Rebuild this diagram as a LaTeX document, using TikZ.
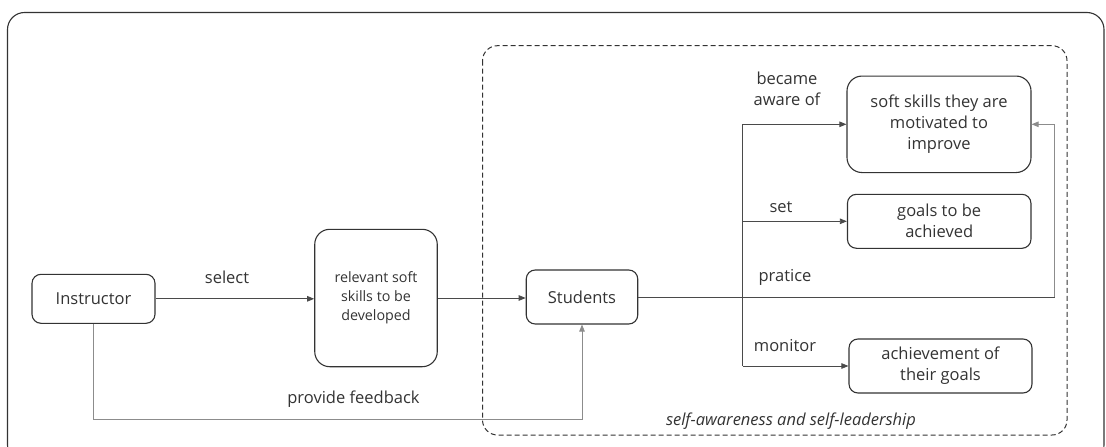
\documentclass[tikz,border=0pt]{standalone}
\usepackage{fontspec}
\setmainfont{Open Sans}
\usetikzlibrary{arrows.meta}
\definecolor{ink}{HTML}{333333}
\definecolor{edgedark}{HTML}{4A4A4A}
\definecolor{edgelight}{HTML}{8C8C8C}
\begin{document}
\begin{tikzpicture}[x=1pt,y=-1pt,
  box/.style={draw=ink,line width=1.1pt,rounded corners=9pt,inner sep=0pt,
    align=center,text=ink,font=\fontsize{16.5}{21}\selectfont},
  lbl/.style={text=ink,align=center,inner sep=0pt,font=\fontsize{16.5}{21}\selectfont},
  conn/.style={draw=edgedark,line width=0.8pt,-{Triangle[length=7pt,width=5.5pt]}},
  plain/.style={draw=edgedark,line width=0.8pt},
  soft/.style={draw=edgelight,line width=0.8pt},
]
\useasboundingbox (0,0) rectangle (1106,447);
\begin{scope}
\clip (0,0) rectangle (1106,447);
% outer frame (its lower edge lies below the page)
\draw[ink,line width=1.1pt,rounded corners=17pt] (7.5,12.5) rectangle (1104,462);
\end{scope}
% dashed region
\draw[ink,line width=1pt,dash pattern=on 5pt off 3pt,rounded corners=15pt]
  (482.5,45.7) rectangle (1067,435);
\node[text=ink,inner sep=0pt,font=\fontsize{16.5}{21}\selectfont\itshape] (region) at (791,421)
  {self-awareness and self-leadership};

% nodes
\node[box,minimum width=123pt,minimum height=49pt] (ins) at (93.5,298.8) {Instructor};
\node[box,rounded corners=15pt,minimum width=122.5pt,minimum height=137.4pt,
  font=\fontsize{14.3}{19}\selectfont] (rel) at (376,298) {relevant soft\\skills to be\\developed};
\node[box,minimum width=111.5pt,minimum height=54pt] (stu) at (582,297) {Students};
\node[box,rounded corners=15pt,minimum width=184pt,minimum height=96.5pt] (top) at (939,124.3)
  {soft skills they are\\motivated to\\improve};
\node[box,minimum width=183.5pt,minimum height=54pt] (goal) at (939.2,221.3) {goals to be\\achieved};
\node[box,minimum width=183pt,minimum height=54pt] (ach) at (940.5,366) {achievement of\\their goals};

% helper coordinates
\coordinate (bx) at (742.7,297);
\coordinate (rt) at (1054.5,297);
\coordinate (fb) at (582,419);

% connectors
\draw[conn] (ins.east) -- (ins.east -| rel.west);
\draw[conn] (rel.east) -- (rel.east -| stu.west);
\draw[plain] (stu.east) -- (rt);
\draw[soft,-{Triangle[length=7pt,width=5.5pt]}] (rt) |- (top.east);
\draw[plain] (bx |- top.west) -- (bx |- ach.west);
\draw[conn] (bx |- top.west) -- (top.west);
\draw[conn] (bx |- goal.west) -- (goal.west);
\draw[conn] (bx |- ach.west) -- (ach.west);
\draw[soft,-{Triangle[length=7pt,width=5.5pt]}] (ins.south) |- (fb) -- (stu.south);

% connector labels
\node[lbl] (lselect) at (227,277) {select};
\node[lbl] (lfeed) at (353.5,399) {provide feedback};
\node[lbl] (laware) at (787,88.5) {became\\aware of};
\node[lbl] (lset) at (781,207) {set};
\node[lbl] (lprat) at (785,277) {pratice};
\node[lbl] (lmon) at (785,346) {monitor};
\end{tikzpicture}
\end{document}
